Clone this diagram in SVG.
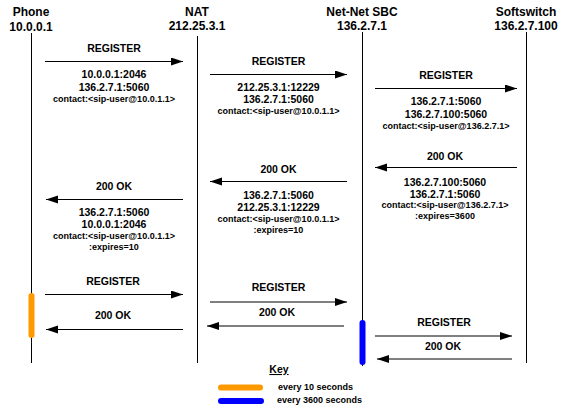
<svg xmlns="http://www.w3.org/2000/svg" width="571" height="406" viewBox="0 0 571 406">
<defs>
<marker id="ah" markerUnits="userSpaceOnUse" markerWidth="13" markerHeight="9" refX="12" refY="4" orient="auto" viewBox="0 0 13 9">
<path d="M0,0 L12,4 L0,8 z" fill="#000"/>
</marker>
<style>
text{font-family:"Liberation Sans",Arial,sans-serif;font-weight:bold;fill:#000;text-anchor:middle}
.h{font-size:12px}
.m{font-size:10.5px}
.s{font-size:9px}
.k{font-size:9px;text-anchor:start}
.life{stroke:#000;stroke-width:1;fill:none}
.msg{stroke:#000;stroke-width:1;fill:none;marker-end:url(#ah)}
.bar{stroke-width:6;stroke-linecap:round;fill:none}
</style>
</defs>
<rect width="571" height="406" fill="#fff"/>
<g id="phone">
<text class="h" x="31" y="16">Phone</text>
<text class="h" x="31" y="31">10.0.0.1</text>
<line class="life" x1="31.5" y1="33" x2="31.5" y2="363"/>
</g>
<g id="nat">
<text class="h" x="197" y="16">NAT</text>
<text class="h" x="197" y="30">212.25.3.1</text>
<line class="life" x1="197.5" y1="36" x2="197.5" y2="363"/>
</g>
<g id="sbc">
<text class="h" x="362" y="16">Net-Net SBC</text>
<text class="h" x="362" y="30">136.2.7.1</text>
<line class="life" x1="362.5" y1="32" x2="362.5" y2="366"/>
</g>
<g id="softswitch">
<text class="h" x="526" y="16">Softswitch</text>
<text class="h" x="526" y="30">136.2.7.100</text>
<line class="life" x1="526.5" y1="32" x2="526.5" y2="363"/>
</g>
<g id="connectors">
<line class="msg" x1="45" y1="61.5" x2="183" y2="61.5"/>
<line class="msg" x1="210" y1="74.5" x2="347" y2="74.5"/>
<line class="msg" x1="375" y1="88.5" x2="517" y2="88.5"/>
<line class="msg" x1="517" y1="167.5" x2="375" y2="167.5"/>
<line class="msg" x1="347" y1="181.5" x2="210" y2="181.5"/>
<line class="msg" x1="183" y1="199.5" x2="46" y2="199.5"/>
<line class="msg" x1="45" y1="294.5" x2="183" y2="294.5"/>
<line class="msg" x1="183" y1="329.5" x2="46" y2="329.5"/>
<line class="msg" x1="210" y1="302" x2="347" y2="302"/>
<line class="msg" x1="344" y1="326" x2="207" y2="326"/>
<line class="msg" x1="375" y1="336" x2="512" y2="336"/>
<line class="msg" x1="512" y1="359" x2="377" y2="359"/>
</g>
<g id="labels">
<text class="m" x="114" y="52">REGISTER</text>
<text class="m" x="114" y="78">10.0.0.1:2046</text>
<text class="m" x="114" y="90.5">136.2.7.1:5060</text>
<text class="s" x="114" y="102">contact:&lt;sip-user@10.0.1.1&gt;</text>

<text class="m" x="278.5" y="65">REGISTER</text>
<text class="m" x="278.5" y="90.5">212.25.3.1:12229</text>
<text class="m" x="278.5" y="103">136.2.7.1:5060</text>
<text class="s" x="278.5" y="114">contact:&lt;sip-user@10.0.1.1&gt;</text>

<text class="m" x="446" y="79">REGISTER</text>
<text class="m" x="446" y="105">136.2.7.1:5060</text>
<text class="m" x="446" y="117.5">136.2.7.100:5060</text>
<text class="s" x="446" y="129">contact:&lt;sip-user@136.2.7.1&gt;</text>

<text class="m" x="445" y="160">200 OK</text>
<text class="m" x="445" y="185.5">136.2.7.100:5060</text>
<text class="m" x="445" y="197.5">136.2.7.1:5060</text>
<text class="s" x="445" y="208">contact:&lt;sip-user@136.2.7.1&gt;</text>
<text class="s" x="445" y="219">:expires=3600</text>

<text class="m" x="278.5" y="173">200 OK</text>
<text class="m" x="278.5" y="198.5">136.2.7.1:5060</text>
<text class="m" x="278.5" y="211">212.25.3.1:12229</text>
<text class="s" x="278.5" y="222">contact:&lt;sip-user@10.0.1.1&gt;</text>
<text class="s" x="278.5" y="233">:expires=10</text>

<text class="m" x="114" y="190">200 OK</text>
<text class="m" x="114" y="215.5">136.2.7.1:5060</text>
<text class="m" x="114" y="228">10.0.0.1:2046</text>
<text class="s" x="114" y="239">contact:&lt;sip-user@10.0.1.1&gt;</text>
<text class="s" x="114" y="250">:expires=10</text>

<text class="m" x="113" y="285">REGISTER</text>
<text class="m" x="113" y="319">200 OK</text>
<text class="m" x="278.5" y="291">REGISTER</text>
<text class="m" x="277" y="316">200 OK</text>
<text class="m" x="444" y="326">REGISTER</text>
<text class="m" x="443" y="350">200 OK</text>
</g>
<g id="bars">
<line class="bar" stroke="#FF9900" x1="31.5" y1="296" x2="31.5" y2="335"/>
<line class="bar" stroke="#0000FF" x1="362.5" y1="323" x2="362.5" y2="362"/>
</g>
<g id="key">
<text class="m" x="279" y="373" text-decoration="underline">Key</text>
<line class="bar" stroke="#FF9900" x1="221" y1="387.5" x2="260" y2="387.5"/>
<line class="bar" stroke="#0000FF" x1="221" y1="401" x2="261" y2="401"/>
<text class="k" x="278" y="389.5">every 10 seconds</text>
<text class="k" x="277" y="403">every 3600 seconds</text>
</g>
</svg>
